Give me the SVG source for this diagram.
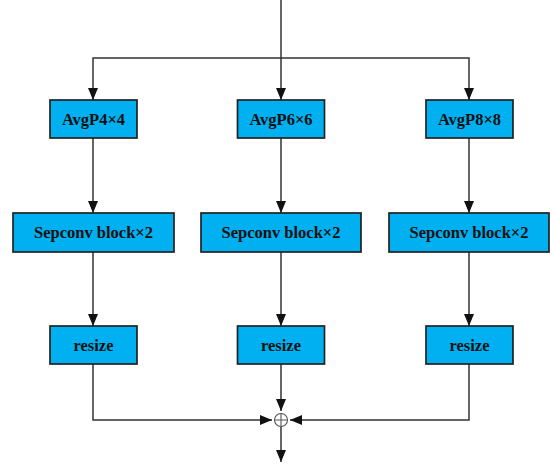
<svg xmlns="http://www.w3.org/2000/svg" width="552" height="467" viewBox="0 0 552 467">
  <style>
    .box { fill: #00B0F0; stroke: #222; stroke-width: 1.7; }
    .lbl { font-family: "Liberation Serif", "Times New Roman", serif; font-weight: bold; font-size: 16.5px; fill: #111; text-anchor: middle; }
    .wire { fill: none; stroke: #333; stroke-width: 1.5; }
    .sum { fill: #fff; stroke: #555; stroke-width: 1.1; }
  </style>
  <defs>
    <marker id="arrow" viewBox="0 0 12 10" markerWidth="12" markerHeight="10" refX="12" refY="5" markerUnits="userSpaceOnUse" orient="auto">
      <path d="M0,0 L12,5 L0,10 Z" fill="#111"/>
    </marker>
  </defs>

  <g id="connectors">
    <!-- input and split -->
    <path class="wire" d="M281,0 V100" marker-end="url(#arrow)"/>
    <path class="wire" d="M281,58 H93 V100" marker-end="url(#arrow)"/>
    <path class="wire" d="M281,58 H469 V100" marker-end="url(#arrow)"/>
    <!-- pooling to sepconv -->
    <path class="wire" d="M93,138 V213" marker-end="url(#arrow)"/>
    <path class="wire" d="M281,138 V213" marker-end="url(#arrow)"/>
    <path class="wire" d="M469,138 V213" marker-end="url(#arrow)"/>
    <!-- sepconv to resize -->
    <path class="wire" d="M93,252 V326" marker-end="url(#arrow)"/>
    <path class="wire" d="M281,252 V326" marker-end="url(#arrow)"/>
    <path class="wire" d="M469,252 V326" marker-end="url(#arrow)"/>
    <!-- resize to sum -->
    <path class="wire" d="M93,364 V420 H272" marker-end="url(#arrow)"/>
    <path class="wire" d="M281,364 V411" marker-end="url(#arrow)"/>
    <path class="wire" d="M469,364 V420 H290" marker-end="url(#arrow)"/>
    <!-- output -->
    <path class="wire" d="M281,427 V462" marker-end="url(#arrow)"/>
  </g>

  <g id="sum">
    <circle class="sum" cx="281" cy="420" r="6.5"/>
    <path class="sum" d="M274.5,420 H287.5 M281,413.5 V426.5"/>
  </g>

  <g id="avgp4">
    <rect class="box" x="50" y="100" width="87" height="38"/>
    <text class="lbl" x="93.5" y="125">AvgP4×4</text>
  </g>
  <g id="avgp6">
    <rect class="box" x="237.5" y="100" width="87" height="38"/>
    <text class="lbl" x="281" y="125">AvgP6×6</text>
  </g>
  <g id="avgp8">
    <rect class="box" x="426" y="100" width="87" height="38"/>
    <text class="lbl" x="469.5" y="125">AvgP8×8</text>
  </g>

  <g id="sepconv1">
    <rect class="box" x="13" y="213" width="161" height="39"/>
    <text class="lbl" x="93.5" y="238">Sepconv block×2</text>
  </g>
  <g id="sepconv2">
    <rect class="box" x="201" y="213" width="160" height="39"/>
    <text class="lbl" x="281" y="238">Sepconv block×2</text>
  </g>
  <g id="sepconv3">
    <rect class="box" x="389" y="213" width="160" height="39"/>
    <text class="lbl" x="469" y="238">Sepconv block×2</text>
  </g>

  <g id="resize1">
    <rect class="box" x="50" y="326" width="87" height="38"/>
    <text class="lbl" x="93.5" y="351">resize</text>
  </g>
  <g id="resize2">
    <rect class="box" x="237.5" y="326" width="87" height="38"/>
    <text class="lbl" x="281" y="351">resize</text>
  </g>
  <g id="resize3">
    <rect class="box" x="426" y="326" width="87" height="38"/>
    <text class="lbl" x="469.5" y="351">resize</text>
  </g>
</svg>
